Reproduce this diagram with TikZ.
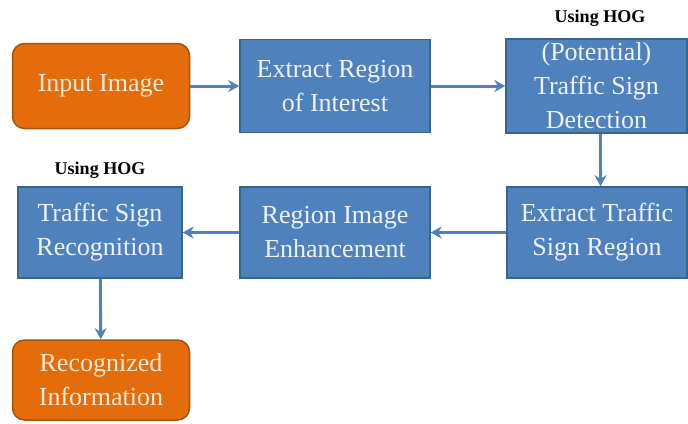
\documentclass[tikz,border=0pt]{standalone}
\usepackage{fontspec}
\setmainfont{Liberation Serif}
\newfontfamily\boxfont{Liberation Serif}
\usetikzlibrary{arrows.meta}

\definecolor{boxblue}{HTML}{4F81BD}
\definecolor{edgeblue}{HTML}{3A6490}
\definecolor{boxorange}{HTML}{E46C0A}
\definecolor{edgeorange}{HTML}{A65208}
\definecolor{bluetext}{HTML}{EEF2F8}
\definecolor{orangetext}{HTML}{FDEADA}

\tikzset{
  stage/.style={draw=edgeblue, line width=1.5pt, fill=boxblue, text=bluetext,
    align=center, inner sep=0pt, font=\boxfont\fontsize{26}{34}\selectfont},
  terminal/.style={draw=edgeorange, line width=1.5pt, fill=boxorange, text=orangetext,
    rounded corners=12pt, align=center, inner sep=0pt, font=\boxfont\fontsize{26}{34}\selectfont},
  flow/.style={draw=boxblue, line width=3pt, -{Stealth[length=11pt,width=12pt]}},
  note/.style={font=\boxfont\bfseries\fontsize{18}{18}\selectfont, inner sep=0pt}
}

\begin{document}
\begin{tikzpicture}[x=1pt,y=-1pt]

    \useasboundingbox (0,0) rectangle (688,423);

    % Top row
    \node[terminal, minimum width=177pt, minimum height=85pt] (input) at (101,86) {Input Image};
    \node[stage, minimum width=190pt, minimum height=93pt] (roi) at (335,86) {Extract Region\\of Interest};
    \node[stage, minimum width=181pt, minimum height=94pt] (detect) at (596.5,86) {(Potential)\\Traffic Sign\\Detection};
    \node[note] (hogtop) at (600,18) {Using HOG};

    % Middle row
    \node[stage, minimum width=180pt, minimum height=91pt] (extract) at (597,232.5) {Extract Traffic\\Sign Region};
    \node[stage, minimum width=190pt, minimum height=91pt] (enhance) at (335,232.5) {Region Image\\Enhancement};
    \node[stage, minimum width=164pt, minimum height=91pt] (recog) at (100,232.5) {Traffic Sign\\Recognition};
    \node[note] (hogleft) at (100,170) {Using HOG};

    % Bottom
    \node[terminal, minimum width=177pt, minimum height=80pt] (info) at (101,380) {Recognized\\Information};

    % Connectors
    \draw[flow] (input) -- (roi);
    \draw[flow] (roi) -- (detect);
    \draw[flow] (detect.south) ++(4,0) coordinate (dfoot) -- (dfoot |- extract.north);
    \draw[flow] (extract) -- (enhance);
    \draw[flow] (enhance) -- (recog);
    \draw[flow] (recog) -- (info);

\end{tikzpicture}
\end{document}
